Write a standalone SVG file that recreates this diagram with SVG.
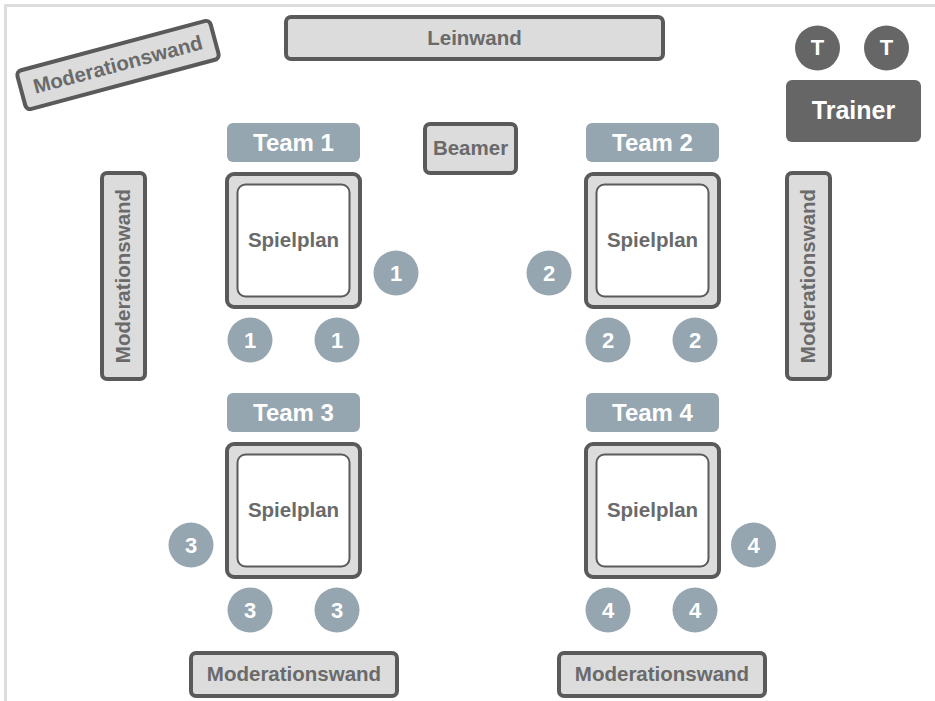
<svg xmlns="http://www.w3.org/2000/svg" width="935" height="701" viewBox="0 0 935 701">
  <style>
    .wall { fill: #dcdcdc; stroke: #5a5a5a; stroke-width: 4; }
    .wall-t { font-family: "Liberation Sans", Arial, sans-serif; font-weight: bold; font-size: 20.5px; fill: #6a6a6a; text-anchor: middle; dominant-baseline: central; }
    .team { fill: #95a6b0; }
    .team-t { font-family: "Liberation Sans", Arial, sans-serif; font-weight: bold; font-size: 24px; fill: #ffffff; text-anchor: middle; dominant-baseline: central; }
    .board { fill: #dcdcdc; stroke: #5a5a5a; stroke-width: 4; }
    .board-in { fill: #ffffff; stroke: #5a5a5a; stroke-width: 2; }
    .board-t { font-family: "Liberation Sans", Arial, sans-serif; font-weight: bold; font-size: 20.5px; fill: #6a6a6a; text-anchor: middle; dominant-baseline: central; }
    .seat { fill: #95a6b0; }
    .seat-t { font-family: "Liberation Sans", Arial, sans-serif; font-weight: bold; font-size: 22px; fill: #ffffff; text-anchor: middle; dominant-baseline: central; }
    .trainer { fill: #666666; }
    .trainer-t { font-family: "Liberation Sans", Arial, sans-serif; font-weight: bold; fill: #ffffff; text-anchor: middle; dominant-baseline: central; }
  </style>
  <rect width="935" height="701" fill="#ffffff"/>
  <!-- room outline -->
  <path d="M5.5 701 V5.5 H935" fill="none" stroke="#dddddd" stroke-width="3"/>

  <!-- walls -->
  <g id="wand-tilted" transform="rotate(-15 118 65)">
    <rect class="wall" x="18" y="45" width="200" height="40" rx="5"/>
    <text class="wall-t" x="118" y="64">Moderationswand</text>
  </g>
  <g id="leinwand">
    <rect class="wall" x="286" y="17" width="377" height="42" rx="5"/>
    <text class="wall-t" x="474.5" y="37">Leinwand</text>
  </g>
  <g id="beamer">
    <rect class="wall" x="425" y="124" width="91" height="49" rx="5"/>
    <text class="wall-t" x="470.5" y="147.5">Beamer</text>
  </g>
  <g id="wand-left">
    <rect class="wall" x="102" y="173" width="43" height="206" rx="5"/>
    <text class="wall-t" transform="translate(122.5 276) rotate(-90)">Moderationswand</text>
  </g>
  <g id="wand-right">
    <rect class="wall" x="787" y="173" width="43" height="206" rx="5"/>
    <text class="wall-t" transform="translate(807.5 276) rotate(-90)">Moderationswand</text>
  </g>
  <g id="wand-bottom-left">
    <rect class="wall" x="191" y="653" width="206" height="43" rx="5"/>
    <text class="wall-t" x="294" y="673.5">Moderationswand</text>
  </g>
  <g id="wand-bottom-right">
    <rect class="wall" x="559" y="653" width="206" height="43" rx="5"/>
    <text class="wall-t" x="662" y="673.5">Moderationswand</text>
  </g>

  <!-- trainer -->
  <g id="trainer">
    <circle class="trainer" cx="817.5" cy="48" r="22.5"/>
    <text class="trainer-t" x="817.5" y="47.5" font-size="22">T</text>
    <circle class="trainer" cx="886.5" cy="48" r="22.5"/>
    <text class="trainer-t" x="886.5" y="47.5" font-size="22">T</text>
    <rect class="trainer" x="786" y="80" width="135" height="62" rx="6"/>
    <text class="trainer-t" x="853.5" y="110" font-size="25">Trainer</text>
  </g>

  <!-- team 1 -->
  <g id="team1">
    <rect class="team" x="227" y="123" width="133" height="39" rx="6"/>
    <text class="team-t" x="293.5" y="142">Team 1</text>
    <rect class="board" x="227" y="174" width="133" height="133" rx="7"/>
    <rect class="board-in" x="237.5" y="184.5" width="112" height="112" rx="8"/>
    <text class="board-t" x="293.5" y="239">Spielplan</text>
    <circle class="seat" cx="396" cy="273" r="22.5"/><text class="seat-t" x="396" y="273">1</text>
    <circle class="seat" cx="250" cy="340" r="22.5"/><text class="seat-t" x="250" y="340">1</text>
    <circle class="seat" cx="337" cy="340" r="22.5"/><text class="seat-t" x="337" y="340">1</text>
  </g>

  <!-- team 2 -->
  <g id="team2">
    <rect class="team" x="586" y="123" width="133" height="39" rx="6"/>
    <text class="team-t" x="652.5" y="142">Team 2</text>
    <rect class="board" x="586" y="174" width="133" height="133" rx="7"/>
    <rect class="board-in" x="596.5" y="184.5" width="112" height="112" rx="8"/>
    <text class="board-t" x="652.5" y="239">Spielplan</text>
    <circle class="seat" cx="549" cy="273" r="22.5"/><text class="seat-t" x="549" y="273">2</text>
    <circle class="seat" cx="608" cy="340" r="22.5"/><text class="seat-t" x="608" y="340">2</text>
    <circle class="seat" cx="695" cy="340" r="22.5"/><text class="seat-t" x="695" y="340">2</text>
  </g>

  <!-- team 3 -->
  <g id="team3">
    <rect class="team" x="227" y="393" width="133" height="39" rx="6"/>
    <text class="team-t" x="293.5" y="412">Team 3</text>
    <rect class="board" x="227" y="444" width="133" height="133" rx="7"/>
    <rect class="board-in" x="237.5" y="454.5" width="112" height="112" rx="8"/>
    <text class="board-t" x="293.5" y="509">Spielplan</text>
    <circle class="seat" cx="191" cy="545" r="22.5"/><text class="seat-t" x="191" y="545">3</text>
    <circle class="seat" cx="250" cy="610" r="22.5"/><text class="seat-t" x="250" y="610">3</text>
    <circle class="seat" cx="337" cy="610" r="22.5"/><text class="seat-t" x="337" y="610">3</text>
  </g>

  <!-- team 4 -->
  <g id="team4">
    <rect class="team" x="586" y="393" width="133" height="39" rx="6"/>
    <text class="team-t" x="652.5" y="412">Team 4</text>
    <rect class="board" x="586" y="444" width="133" height="133" rx="7"/>
    <rect class="board-in" x="596.5" y="454.5" width="112" height="112" rx="8"/>
    <text class="board-t" x="652.5" y="509">Spielplan</text>
    <circle class="seat" cx="753.5" cy="545" r="22.5"/><text class="seat-t" x="753.5" y="545">4</text>
    <circle class="seat" cx="608" cy="610" r="22.5"/><text class="seat-t" x="608" y="610">4</text>
    <circle class="seat" cx="695" cy="610" r="22.5"/><text class="seat-t" x="695" y="610">4</text>
  </g>

  <!-- connectors: none in this layout -->
  <g id="connectors"/>
</svg>
